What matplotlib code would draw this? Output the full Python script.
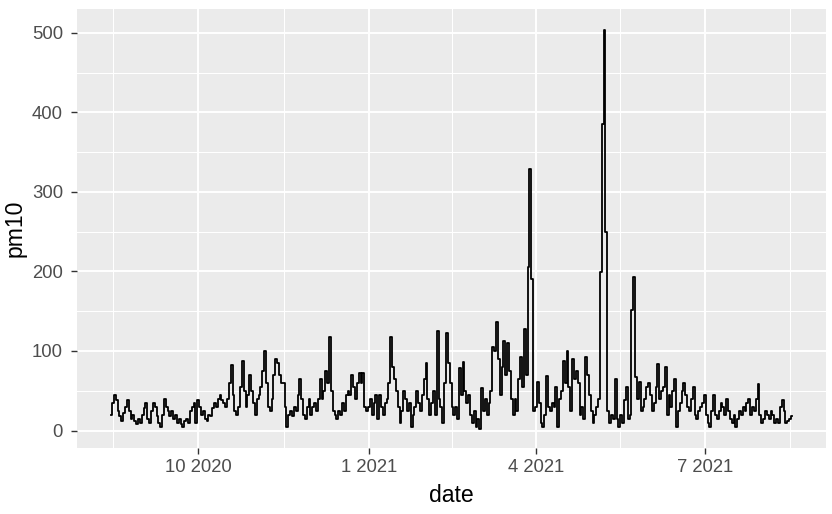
"""
pm10 daily series, Aug 2020 - Aug 2021, drawn in a ggplot2 theme_grey look.
Values read off the reference picture (roughly one value per day).
"""

import numpy as np
import pandas as pd
import matplotlib
matplotlib.use("Agg")
import matplotlib.pyplot as plt
import matplotlib.dates as mdates
from matplotlib.ticker import FixedLocator

# ---- data (one value per day from 2020-08-15) ----
start_date = "2020-08-15"

pm10_aug_nov_2020 = [
    20, 35, 45, 38, 25, 18, 12, 22, 30, 38,
    25, 15, 20, 12, 8, 15, 10, 20, 28, 35,
    15, 10, 25, 35, 30, 18, 10, 5, 20, 40,
    30, 25, 18, 25, 15, 20, 10, 15, 8, 5,
    12, 15, 10, 25, 30, 35, 10, 38, 30, 20,
    25, 15, 12, 20, 18, 28, 35, 30, 40, 45,
    38, 35, 30, 40, 60, 82, 45, 25, 20, 30,
    55, 88, 50, 30, 45, 70, 50, 35, 20, 40,
    45, 55, 75, 100, 60, 30, 25, 40, 70, 90,
    85, 70,
]

pm10_nov_feb = [
    60, 60, 30, 5, 20, 25, 18, 30, 25, 45,
    65, 40, 20, 15, 30, 40, 20, 30, 35, 25,
    40, 65, 40, 50, 75, 60, 118, 50, 25, 20,
    15, 25, 20, 35, 25, 45, 50, 45, 70, 55,
    40, 60, 72, 60, 72, 30, 25, 30, 40, 20,
    35, 45, 15, 45, 30, 20, 35, 40, 60, 118,
    80, 65, 50, 30, 10, 25, 50, 40, 25, 35,
    5, 20, 30, 50, 35, 25, 45, 65, 85, 40,
    20, 35, 50, 20, 125, 40, 30, 10, 60, 123,
    85, 60,
]

pm10_feb_may = [
    30, 20, 30, 15, 78, 45, 86, 50, 35, 45,
    20, 10, 25, 5, 15, 2, 54, 25, 40, 20,
    35, 50, 105, 100, 136, 90, 45, 80, 112, 70,
    110, 75, 40, 20, 40, 25, 65, 92, 55, 128,
    70, 205, 329, 190, 25, 30, 61, 35, 10, 5,
    20, 68, 30, 25, 35, 30, 55, 5, 40, 50,
    88, 60, 100, 55, 25, 90, 65, 75, 60, 20,
    30, 15, 92, 70, 45, 25, 10, 20, 30, 40,
    199, 386, 503, 249, 25, 10, 20, 15,
]

pm10_may_aug_2021 = [
    65, 15, 5, 20, 10, 38, 55, 15, 20, 151,
    193, 67, 40, 61, 25, 30, 40, 55, 60, 45,
    25, 35, 55, 83, 40, 50, 55, 80, 20, 45,
    30, 50, 65, 5, 25, 35, 50, 60, 45, 30,
    25, 40, 55, 20, 15, 25, 30, 35, 45, 20,
    10, 5, 25, 45, 20, 15, 25, 35, 30, 20,
    40, 25, 15, 10, 20, 5, 15, 25, 20, 30,
    25, 35, 40, 20, 30, 25, 40, 58, 20, 10,
    15, 25, 20, 15, 25, 20, 10, 15, 10, 30,
    38, 25, 10, 12, 15, 18,
]

pm10 = pm10_aug_nov_2020 + pm10_nov_feb + pm10_feb_may + pm10_may_aug_2021
dates = pd.date_range(start_date, periods=len(pm10), freq="D")

# x breaks: quarterly majors, ggplot-style minors half way between
major_dates = pd.to_datetime(["2020-10-01", "2021-01-01", "2021-04-01", "2021-07-01"])
all_majors = pd.to_datetime(["2020-07-01", "2020-10-01", "2021-01-01",
                             "2021-04-01", "2021-07-01", "2021-10-01"])
major_num = mdates.date2num(major_dates)
all_num = mdates.date2num(all_majors)
minor_num = (all_num[:-1] + all_num[1:]) / 2
major_labels = ["10 2020", "1 2021", "4 2021", "7 2021"]

y_major = [0, 100, 200, 300, 400, 500]
y_minor = [50, 150, 250, 350, 450]

# ---- plot ----
plt.rcParams["font.family"] = ["Liberation Sans", "DejaVu Sans"]

fig = plt.figure(figsize=(8.32, 5.14), dpi=100)
ax = fig.add_axes([77 / 832, 66 / 514, 749 / 832, 439 / 514])
ax.set_facecolor("#EBEBEB")

x_num = mdates.date2num(dates)
span = x_num[-1] - x_num[0]
ax.set_xlim(x_num[0] - 0.05 * span, x_num[-1] + 0.05 * span)
ax.set_ylim(-22, 530)

for v in minor_num:
    ax.axvline(v, color="white", lw=0.75, zorder=0)
for v in y_minor:
    ax.axhline(v, color="white", lw=0.75, zorder=0)
for v in major_num:
    ax.axvline(v, color="white", lw=1.4, zorder=0)
for v in y_major:
    ax.axhline(v, color="white", lw=1.4, zorder=0)

# step drawing gives the dense vertical strokes of the hourly original
ax.plot(x_num, pm10, color="black", lw=1.3, drawstyle="steps-mid", zorder=2)

ax.xaxis.set_major_locator(FixedLocator(major_num))
ax.set_xticklabels(major_labels)
ax.yaxis.set_major_locator(FixedLocator(y_major))
ax.set_yticklabels([str(v) for v in y_major])

for s in ax.spines.values():
    s.set_visible(False)
ax.tick_params(axis="both", length=4, width=1, color="#333333",
               labelcolor="#4D4D4D", labelsize=13.3)
ax.tick_params(axis="x", pad=4)
ax.tick_params(axis="y", pad=6)

ax.set_xlabel("date", fontsize=16.6, color="black", labelpad=6)
ax.set_ylabel("pm10", fontsize=16.6, color="black", labelpad=4)

fig.savefig("out.png", dpi=100)
